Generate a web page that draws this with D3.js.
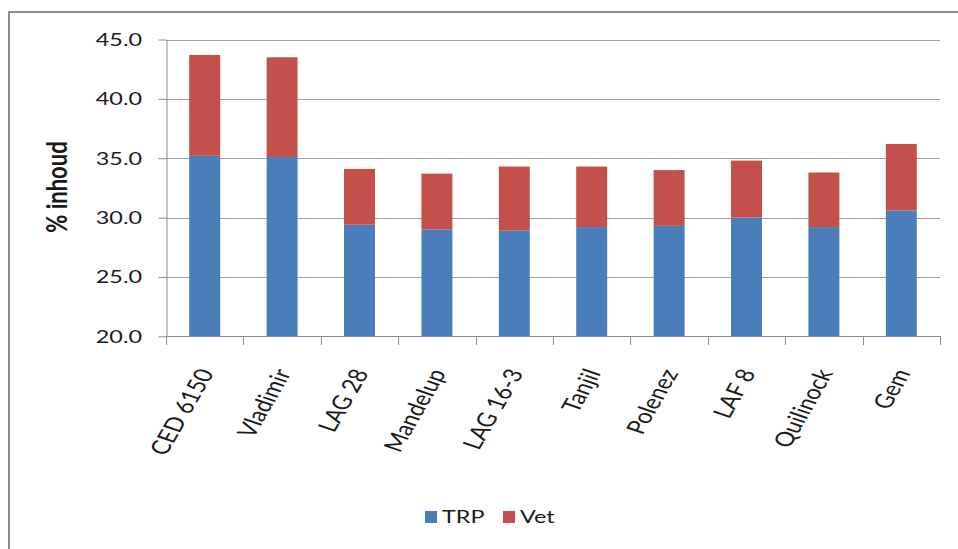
<!DOCTYPE html>
<html><head><meta charset="utf-8">
<script src="https://cdn.jsdelivr.net/npm/d3@7"></script>
<style>body{margin:0;background:#fff}svg{display:block}text{font-family:Lato,"Noto Sans",sans-serif;fill:#1a1a1a}</style>
</head><body><svg id="c" width="958" height="549"></svg>
<script>
const categories = ["CED 6150","Vladimir","LAG 28","Mandelup","LAG 16-3","Tanjil","Polenez","LAF 8","Quilinock","Gem"];
const trp = [35.2,35.1,29.4,29.0,28.9,29.2,29.3,30.0,29.2,30.6];
const vet = [8.5,8.4,4.7,4.7,5.4,5.1,4.7,4.8,4.6,5.6];
const seriesNames = ["TRP","Vet"];
const colors = ["#4A7EBB","#C3504A"];
const yTicks = [20,25,30,35,40,45];
const yLabel = "% inhoud";

const svg = d3.select("#c");
const SX = 1.3;
// outer border
svg.append("path").attr("d","M9,560 V12 H970").attr("fill","none").attr("stroke","#8c8c8c").attr("stroke-width",2);

const x = d3.scaleBand().domain(categories).range([166,940]).paddingInner(0.6).paddingOuter(0.3);
const y = d3.scaleLinear().domain([20,45]).range([336.3,39.5]);
const yMin = y.domain()[0];

// gridlines
svg.append("g").selectAll("line").data(yTicks.slice(1)).join("line")
  .attr("x1",166).attr("x2",940).attr("y1",d=>Math.round(y(d))+0.5).attr("y2",d=>Math.round(y(d))+0.5)
  .attr("stroke","#a0a0a0").attr("stroke-width",1);

const rows = categories.map((c,i)=>({cat:c,TRP:trp[i],Vet:vet[i]}));
const stacked = d3.stack().keys(seriesNames)(rows);
svg.append("g").selectAll("g").data(stacked).join("g").attr("fill",(d,i)=>colors[i])
  .selectAll("rect").data(d=>d).join("rect")
  .attr("x",d=>x(d.data.cat)).attr("width",x.bandwidth())
  .attr("y",d=>y(d[1])).attr("height",d=>y(Math.max(d[0],yMin))-y(d[1]));

// y axis
const ya = svg.append("g").attr("transform","translate(166.5,0)")
  .call(d3.axisLeft(y).tickValues(yTicks).tickFormat(d3.format(".1f")).tickSize(8).tickSizeOuter(0));
ya.select(".domain").attr("stroke","#8c8c8c");
ya.selectAll(".tick line").attr("stroke","#8c8c8c");
ya.selectAll(".tick text").remove();
svg.append("g").selectAll("text").data(yTicks).join("text")
  .attr("transform",d=>`translate(142,${y(d)}) scale(${SX},1)`)
  .attr("text-anchor","end").attr("dy","0.36em").attr("font-size",18).text(d=>d3.format(".1f")(d));

// x axis
const bounds = categories.map(c=>x(c)-x.step()*x.paddingInner()/2);
bounds.push(940);
svg.append("line").attr("x1",166).attr("x2",940).attr("y1",336.5).attr("y2",336.5).attr("stroke","#8c8c8c");
svg.append("g").selectAll("line").data(bounds).join("line")
  .attr("x1",d=>Math.round(d)+0.5).attr("x2",d=>Math.round(d)+0.5).attr("y1",336).attr("y2",345)
  .attr("stroke","#8c8c8c");
svg.append("g").selectAll("text").data(categories).join("text")
  .attr("transform",d=>`translate(${x(d)+x.bandwidth()/2+1},370) scale(${SX},1) rotate(-66)`)
  .attr("text-anchor","end").attr("dy","0.36em").attr("font-size",20).text(d=>d);

// y label
svg.append("text").attr("transform",`translate(67,187) scale(${SX},1) rotate(-90)`)
  .attr("text-anchor","middle").attr("font-size",22).attr("font-weight","bold").text(yLabel);

// legend
const lg = svg.append("g").selectAll("g").data(seriesNames).join("g")
  .attr("transform",(d,i)=>`translate(${425+i*78},511)`);
lg.append("rect").attr("width",12).attr("height",12).attr("fill",(d,i)=>colors[i]);
lg.append("text").attr("transform",`translate(17,6) scale(${SX},1)`).attr("dy","0.36em").attr("font-size",18).text(d=>d);
</script></body></html>
